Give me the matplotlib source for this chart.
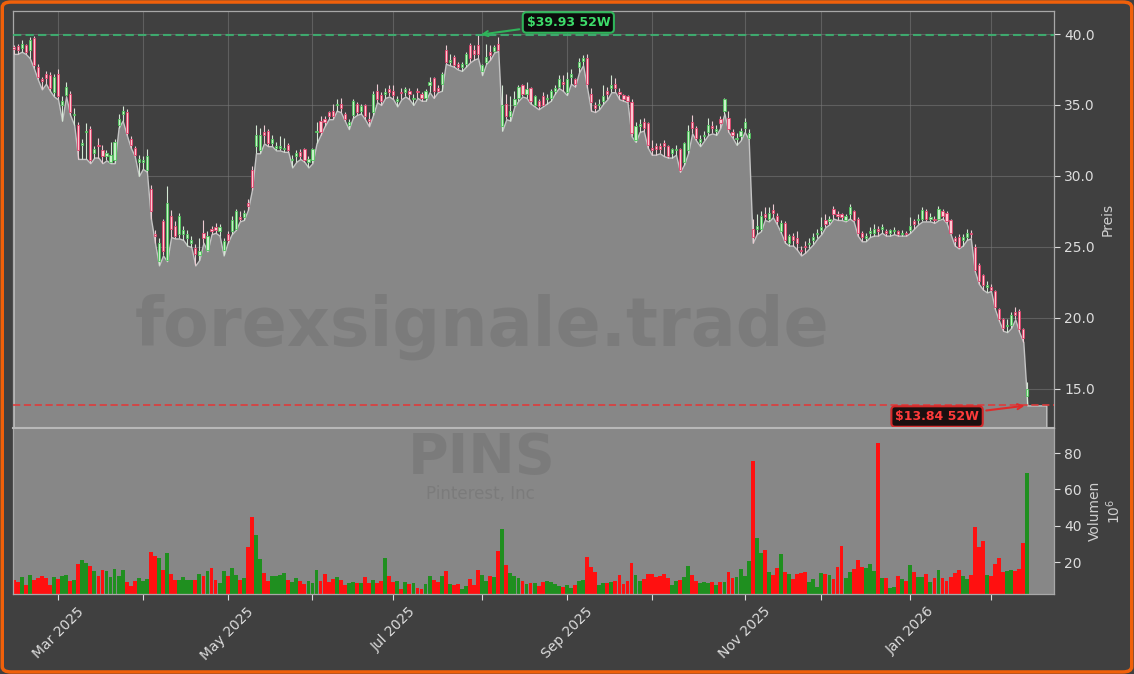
import numpy as np
import pandas as pd
import matplotlib
matplotlib.use("Agg")
import matplotlib.pyplot as plt
from matplotlib.patches import FancyBboxPatch

# ---------------- data ----------------
start_date = "2025-02-13"
end_date = "2026-02-13"
holidays = ["2025-02-17", "2025-04-18", "2025-05-26", "2025-06-19", "2025-07-04",
            "2025-09-01", "2025-11-27", "2025-12-25", "2026-01-01", "2026-01-19"]

open_ = [39.05, 39.15, 39.0, 39.2, 38.9, 39.75, 37.7, 36.8, 37.2, 37.1,
         35.9, 37.2, 35.0, 35.7, 35.8, 34.3, 33.6, 32.2, 33.1, 33.3,
         31.6, 32.2, 31.8, 31.4, 31.0, 31.1, 33.6, 34.4, 34.5, 32.6,
         32.0, 31.0, 31.0, 30.4, 29.1, 25.9, 24.0, 26.8, 24.1, 27.2,
         26.5, 25.9, 25.9, 25.6, 25.3, 24.9, 24.4, 26.0, 24.8, 26.3,
         26.4, 26.1, 24.8, 25.9, 26.1, 26.3, 27.1, 27.1, 28.1, 30.4,
         32.1, 31.8, 33.1, 33.2, 32.3, 32.0, 32.0, 31.9, 32.2, 31.1,
         31.4, 31.7, 31.9, 31.0, 31.1, 33.1, 33.9, 34.0, 34.5, 34.6,
         35.0, 35.1, 34.4, 33.6, 34.3, 35.1, 34.6, 35.0, 34.0, 34.5,
         36.0, 35.7, 35.8, 36.1, 36.0, 35.3, 35.95, 35.9, 36.0, 35.4,
         36.0, 35.8, 35.5, 36.4, 36.9, 36.2, 36.5, 38.9, 38.05, 38.4,
         37.9, 37.7, 37.9, 39.2, 38.9, 39.2, 37.4, 38.0, 38.7, 38.8,
         39.3, 33.5, 35.1, 34.2, 35.0, 35.5, 36.4, 35.8, 36.2, 35.0,
         35.3, 35.6, 35.4, 35.5, 36.0, 36.3, 36.6, 35.9, 37.0, 36.8,
         37.7, 38.1, 38.3, 35.8, 35.0, 35.0, 35.3, 36.0, 36.2, 36.5,
         35.9, 35.7, 35.6, 35.2, 32.5, 33.55, 33.8, 33.7, 31.95, 32.1,
         32.1, 32.3, 32.1, 31.6, 31.8, 31.9, 31.0, 31.8, 33.8, 33.4,
         32.4, 32.8, 33.1, 33.5, 33.2, 34.0, 34.6, 34.1, 33.1, 32.6,
         32.8, 33.4, 32.7, 26.3, 26.3, 26.3, 27.3, 27.0, 27.6, 27.2,
         26.1, 26.7, 25.3, 25.8, 25.6, 24.8, 25.1, 25.2, 25.5, 25.9,
         26.2, 26.9, 26.8, 27.7, 27.3, 27.3, 26.9, 27.3, 27.5, 27.0,
         26.0, 25.6, 26.0, 26.0, 26.3, 26.3, 26.1, 26.0, 26.1, 26.1,
         25.9, 26.0, 26.2, 26.8, 26.9, 27.0, 27.5, 27.0, 27.0, 27.0,
         27.5, 27.4, 26.9, 25.6, 25.7, 25.5, 25.7, 26.0, 25.0, 23.7,
         23.0, 22.2, 22.2, 21.9, 20.6, 19.9, 19.4, 19.5, 20.4, 20.5,
         19.2, 14.5]

high = [39.2, 39.3, 39.6, 39.3, 39.8, 39.86, 37.9, 37.0, 37.4, 37.3,
        37.2, 37.5, 35.6, 36.6, 36.0, 34.8, 33.8, 32.6, 33.7, 33.5,
        32.1, 32.7, 32.2, 31.8, 32.4, 32.6, 34.4, 34.9, 34.7, 32.8,
        32.1, 31.5, 31.4, 31.9, 29.4, 26.2, 25.6, 27.0, 29.3, 27.6,
        26.8, 27.4, 26.5, 26.2, 25.8, 25.2, 25.6, 26.9, 26.1, 26.5,
        26.7, 26.6, 25.6, 26.1, 27.2, 27.7, 27.5, 27.6, 28.4, 30.7,
        33.6, 33.4, 33.6, 33.3, 32.9, 32.4, 32.8, 32.7, 32.3, 31.5,
        31.8, 31.9, 32.0, 31.4, 32.0, 33.8, 34.2, 34.2, 34.6, 35.1,
        35.4, 35.5, 34.5, 34.0, 35.4, 35.2, 35.1, 35.1, 34.5, 36.0,
        36.5, 35.9, 36.2, 36.4, 36.4, 35.6, 36.2, 36.3, 36.2, 35.8,
        36.2, 35.9, 36.1, 37.0, 37.0, 36.4, 37.3, 39.2, 38.6, 38.5,
        38.0, 38.0, 38.7, 39.4, 39.2, 39.93, 37.9, 39.3, 39.2, 39.2,
        39.8, 36.4, 35.8, 35.6, 36.0, 36.4, 36.5, 36.6, 36.3, 35.7,
        35.4, 35.9, 35.8, 36.1, 36.4, 37.1, 37.1, 37.3, 37.5, 36.9,
        38.3, 38.5, 38.6, 36.2, 35.2, 35.4, 36.4, 36.3, 37.1, 36.9,
        36.2, 35.8, 35.7, 35.4, 33.8, 34.0, 34.1, 33.8, 32.5, 32.3,
        32.3, 32.5, 32.2, 32.0, 32.2, 32.0, 32.4, 33.6, 34.3, 33.5,
        32.9, 33.2, 34.1, 33.9, 33.6, 34.2, 35.5, 34.6, 33.3, 33.0,
        33.4, 34.1, 33.3, 27.0, 27.3, 27.5, 27.8, 27.8, 28.0, 27.4,
        26.9, 26.8, 25.9, 26.0, 26.1, 25.1, 25.4, 25.6, 26.0, 26.3,
        27.1, 27.3, 27.2, 27.9, 27.5, 27.4, 27.3, 28.0, 27.6, 27.1,
        26.1, 26.0, 26.4, 26.6, 26.5, 26.6, 26.3, 26.3, 26.4, 26.2,
        26.2, 26.1, 27.1, 27.0, 27.3, 27.8, 27.7, 27.4, 27.2, 27.9,
        27.7, 27.5, 27.0, 25.8, 25.9, 25.9, 26.3, 26.2, 25.2, 23.9,
        23.1, 22.6, 22.4, 22.0, 20.7, 20.0, 19.9, 20.4, 20.8, 20.6,
        19.3, 15.5]

low = [38.6, 38.6, 38.75, 38.6, 38.3, 37.6, 36.8, 36.1, 36.5, 36.0,
       35.6, 35.4, 33.9, 35.6, 34.3, 33.6, 31.2, 31.2, 31.2, 30.9,
       31.3, 31.3, 30.9, 31.1, 30.9, 30.9, 33.4, 33.9, 32.9, 32.0,
       31.4, 30.0, 30.5, 30.3, 27.0, 25.3, 23.7, 24.4, 24.0, 25.7,
       25.6, 25.6, 25.5, 25.1, 25.0, 23.7, 24.1, 25.3, 24.7, 25.9,
       26.0, 25.8, 24.4, 25.3, 25.9, 26.2, 26.8, 26.9, 27.6, 29.0,
       31.6, 31.6, 32.3, 32.1, 32.1, 31.8, 31.8, 31.7, 31.7, 30.6,
       31.0, 31.2, 31.0, 30.6, 30.9, 32.3, 32.9, 33.5, 34.0, 34.0,
       34.6, 34.5, 33.9, 33.3, 34.1, 34.3, 34.4, 34.0, 33.5, 34.3,
       35.2, 35.0, 35.5, 35.6, 35.4, 34.9, 35.4, 35.6, 35.4, 35.0,
       35.5, 35.3, 35.3, 35.9, 35.5, 35.9, 36.0, 37.9, 37.8, 37.7,
       37.5, 37.4, 37.7, 38.0, 38.2, 38.3, 37.1, 37.9, 38.2, 38.7,
       38.8, 33.2, 34.0, 33.9, 34.9, 35.3, 35.6, 35.5, 35.1, 34.9,
       34.7, 34.9, 35.1, 35.3, 35.8, 36.2, 36.0, 35.7, 36.5, 36.3,
       37.3, 37.8, 36.2, 34.6, 34.5, 34.7, 35.1, 35.4, 35.9, 35.9,
       35.4, 35.3, 35.2, 32.8, 32.4, 33.1, 33.2, 32.0, 31.5, 31.5,
       31.6, 31.4, 31.3, 31.3, 31.5, 30.3, 30.8, 31.6, 33.0, 32.5,
       32.1, 32.5, 32.9, 33.0, 32.9, 33.4, 34.4, 33.1, 32.7, 32.2,
       32.5, 33.1, 32.6, 25.3, 25.9, 26.1, 26.9, 26.8, 27.1, 26.6,
       26.0, 25.3, 25.1, 25.1, 24.8, 24.4, 24.6, 24.9, 25.2, 25.6,
       25.9, 26.4, 26.6, 27.0, 26.9, 26.9, 26.8, 27.0, 26.8, 25.8,
       25.4, 25.4, 25.7, 25.8, 25.8, 26.0, 25.8, 25.8, 25.9, 25.8,
       25.8, 25.8, 26.0, 26.3, 26.6, 26.8, 26.8, 26.8, 26.7, 26.9,
       27.0, 26.7, 25.9, 25.1, 24.9, 25.1, 25.5, 25.6, 23.3, 22.4,
       22.0, 21.8, 21.9, 20.6, 19.8, 19.1, 19.0, 19.3, 19.9, 19.0,
       18.3, 13.84]

close = [38.95, 38.87, 39.3, 38.7, 39.6, 37.8, 37.0, 36.7, 36.9, 36.2,
         37.0, 35.6, 35.3, 36.3, 34.5, 34.4, 31.8, 32.3, 33.2, 31.1,
         31.9, 32.1, 31.4, 31.6, 31.5, 32.4, 34.0, 34.6, 33.0, 32.2,
         31.5, 31.2, 31.1, 31.4, 27.5, 25.8, 25.3, 24.7, 28.1, 26.3,
         25.8, 27.2, 26.2, 25.9, 25.5, 24.5, 24.7, 25.6, 25.8, 26.1,
         26.2, 26.4, 25.4, 25.5, 26.9, 27.5, 27.0, 27.4, 27.9, 29.25,
         32.9, 32.9, 32.9, 32.3, 32.6, 32.1, 32.1, 32.0, 31.8, 31.2,
         31.6, 31.4, 31.1, 31.2, 31.9, 33.2, 33.1, 33.8, 34.2, 34.2,
         35.1, 34.8, 34.0, 33.8, 35.3, 34.5, 34.9, 34.2, 33.9, 35.8,
         35.4, 35.3, 35.9, 35.9, 35.7, 35.4, 35.85, 36.1, 35.8, 35.5,
         35.9, 35.5, 36.0, 36.6, 36.0, 36.0, 37.2, 38.0, 38.15, 37.8,
         37.7, 37.9, 38.6, 38.3, 38.6, 38.6, 37.8, 38.4, 38.5, 39.1,
         38.9, 35.0, 34.2, 34.6, 35.4, 36.3, 35.8, 36.1, 35.3, 35.6,
         34.9, 35.0, 35.5, 36.0, 36.2, 36.8, 36.5, 36.8, 37.2, 36.5,
         38.0, 38.3, 36.5, 35.2, 34.8, 35.1, 35.6, 35.8, 36.4, 36.2,
         35.8, 35.4, 35.3, 33.0, 33.5, 33.65, 33.4, 32.2, 31.85, 31.9,
         31.9, 32.1, 31.4, 31.9, 31.9, 30.4, 32.3, 33.2, 33.4, 32.7,
         32.6, 32.9, 33.6, 33.4, 33.3, 33.7, 35.4, 33.3, 32.9, 32.7,
         33.2, 33.8, 33.0, 25.7, 26.5, 27.2, 27.1, 27.4, 27.4, 26.8,
         26.7, 25.5, 25.8, 25.5, 25.3, 24.7, 25.0, 25.3, 25.7, 26.0,
         26.4, 26.6, 27.0, 27.3, 27.2, 27.1, 27.2, 27.8, 26.9, 26.0,
         25.7, 25.8, 26.1, 26.3, 26.1, 26.4, 26.0, 26.2, 26.2, 25.9,
         26.0, 25.9, 26.5, 26.6, 27.0, 27.6, 27.0, 27.1, 26.9, 27.7,
         27.2, 26.8, 26.0, 25.4, 25.0, 25.7, 26.0, 25.9, 23.4, 22.6,
         22.3, 22.3, 22.0, 20.8, 19.9, 19.3, 19.5, 20.2, 20.2, 19.2,
         18.6, 15.0]

volume_m = [10.0, 9.2, 12.0, 7.3, 13.0, 10.0, 11.4, 12.3, 11.2, 7.3,
            12.0, 10.6, 12.3, 12.8, 9.7, 10.0, 18.9, 21.1, 19.6, 17.8,
            15.0, 12.3, 15.6, 15.0, 12.0, 16.2, 12.3, 15.6, 9.0, 7.0,
            9.5, 11.2, 9.7, 10.6, 25.5, 23.3, 22.2, 15.6, 24.8, 13.4,
            10.1, 10.1, 11.7, 10.1, 10.1, 10.1, 13.4, 12.3, 15.0, 16.5,
            10.1, 8.3, 15.0, 12.3, 16.7, 12.8, 10.1, 11.2, 28.3, 44.8,
            34.9, 21.6, 14.0, 9.5, 12.3, 12.3, 13.0, 13.8, 10.1, 9.0,
            11.2, 9.4, 7.9, 9.4, 8.6, 15.6, 9.4, 13.4, 9.0, 10.8,
            11.7, 10.1, 7.3, 8.3, 9.0, 8.3, 8.3, 11.7, 8.3, 10.1,
            8.3, 9.4, 22.2, 12.3, 9.0, 9.5, 5.2, 9.0, 7.9, 8.5,
            5.7, 5.2, 7.9, 12.3, 10.1, 9.0, 12.3, 15.0, 7.9, 7.3,
            7.9, 5.2, 6.8, 10.6, 7.3, 15.6, 12.8, 9.5, 12.3, 11.7,
            26.0, 38.1, 18.3, 14.0, 12.3, 11.2, 9.5, 7.9, 8.5, 8.5,
            6.8, 9.0, 9.5, 9.0, 7.9, 6.9, 6.4, 7.3, 5.5, 7.3,
            9.5, 10.1, 22.9, 17.4, 14.7, 7.3, 8.6, 8.3, 9.2, 9.7,
            12.8, 7.9, 9.5, 19.3, 12.8, 9.5, 10.6, 13.4, 13.4, 11.6,
            12.3, 13.4, 11.0, 7.3, 9.5, 10.1, 11.9, 17.8, 12.8, 9.5,
            8.6, 9.0, 8.6, 9.0, 7.3, 9.0, 9.0, 14.3, 11.0, 11.9,
            16.2, 12.3, 20.6, 75.6, 33.2, 24.8, 26.6, 14.3, 12.8, 16.9,
            24.2, 14.3, 13.2, 10.6, 13.4, 13.8, 14.3, 9.0, 10.6, 6.2,
            13.8, 13.2, 12.8, 10.6, 17.4, 28.8, 11.2, 14.5, 16.4, 21.1,
            17.4, 16.5, 18.7, 15.0, 85.7, 11.2, 11.2, 5.9, 6.4, 12.3,
            10.4, 9.5, 18.3, 14.5, 11.6, 11.9, 13.4, 9.2, 11.4, 15.6,
            11.2, 9.5, 11.9, 14.1, 15.6, 12.3, 10.8, 12.8, 39.5, 28.5,
            31.7, 12.8, 12.3, 18.9, 22.4, 14.5, 15.0, 15.6, 15.0, 16.2,
            30.5, 69.1]

odd_month_labels = {1: "Jan", 3: "Mar", 5: "May", 7: "Jul", 9: "Sep", 11: "Nov"}
ticker = "PINS"
company = "Pinterest, Inc"
watermark = "forexsignale.trade"
price_ticks = [15, 20, 25, 30, 35, 40]
volume_ticks = [20, 40, 60, 80]

# ---------------- prepare ----------------
dates = pd.bdate_range(start_date, end_date, freq="C", holidays=holidays)
o = np.array(open_); h = np.array(high); l = np.array(low); c = np.array(close)
v = np.array(volume_m)
n = len(c)
x = np.arange(n)
up = c >= o

month_first = pd.Series(x, index=dates).groupby(dates.to_period("M")).first()
tick_pos = list(month_first.values[1:])
tick_lab = [f"{odd_month_labels[p.month]} {p.year}" if p.month in odd_month_labels else ""
            for p in month_first.index[1:]]

hi_i = int(np.argmax(h)); lo_i = int(np.argmin(l))
hi_v = h[hi_i]; lo_v = l[lo_i]
ylo, yhi = lo_v - 1.59, hi_v + 1.69

BG = "#404040"
FILL = "#878787"
TXT = "#dcdcdc"
SPINE = "#a8a8a8"

fig = plt.figure(figsize=(11.34, 6.74), dpi=100, facecolor=BG)
W, H = 1134, 674
ax = fig.add_axes([13 / W, 1 - 428 / H, (1054 - 13) / W, (428 - 11) / H])
axv = fig.add_axes([13 / W, 1 - 594 / H, (1054 - 13) / W, (594 - 428) / H], sharex=ax)

# ---- price panel ----
ax.set_facecolor(BG)
ax.set_axisbelow(True)
ax.grid(True, color="#7a7a7a", alpha=0.55, lw=0.8)
xf = np.append(x, x[-1] + 4.7)
lf = np.append(l, l[-1])
ax.fill_between(xf, lf, ylo, facecolor=FILL, edgecolor="#c4c4c4", lw=1.0, zorder=1)

g_face, g_edge = "#c8f2c8", "#4cc45a"
r_face, r_edge = "#ffc8d2", "#e0406a"
wick_cols = np.where(up, "#d4e8d4", "#eccbd2")
ax.vlines(x, l, h, colors=wick_cols, lw=0.8, zorder=3)
body_lo = np.minimum(o, c)
body_h = np.maximum(np.abs(c - o), 0.03)
ax.bar(x[up], body_h[up], bottom=body_lo[up], width=0.55, facecolor=g_face,
       edgecolor=g_edge, lw=0.6, zorder=4)
ax.bar(x[~up], body_h[~up], bottom=body_lo[~up], width=0.55, facecolor=r_face,
       edgecolor=r_edge, lw=0.6, zorder=4)

ax.axhline(hi_v, color="#3cb371", ls=(0, (4, 2)), lw=1.5, alpha=0.9, zorder=5)
ax.axhline(lo_v, color="#e03a3a", ls=(0, (4, 2)), lw=1.3, alpha=0.9, zorder=5)
ax.annotate(f"${hi_v:.2f} 52W", xy=(hi_i, hi_v), xytext=(65, 9), textcoords="offset points",
            ha="center", va="center", color="#3ddc6a", fontsize=9, fontweight="bold",
            bbox=dict(boxstyle="round,pad=0.3", fc="#0c0c0c", ec="#2fb55a", lw=1.5),
            arrowprops=dict(arrowstyle="->", color="#2fb55a", lw=1.5), zorder=6)
ax.annotate(f"${lo_v:.2f} 52W", xy=(lo_i, lo_v), xytext=(-65, -8), textcoords="offset points",
            ha="center", va="center", color="#ff3b3b", fontsize=9, fontweight="bold",
            bbox=dict(boxstyle="round,pad=0.3", fc="#1a1010", ec="#d42a2a", lw=1.5),
            arrowprops=dict(arrowstyle="->", color="#e02a2a", lw=1.5), zorder=6)

ax.set_ylim(ylo, yhi)
ax.set_xlim(-0.15, n + 5.6)
ax.yaxis.tick_right()
ax.yaxis.set_label_position("right")
ax.set_yticks(price_ticks)
ax.set_yticklabels([f"{t:.1f}" for t in price_ticks])
ax.set_ylabel("Preis", color="#cfcfcf", fontsize=10)
ax.tick_params(axis="y", colors=TXT, labelsize=10, length=4)
ax.tick_params(axis="x", length=0, labelbottom=False)
for s in ax.spines.values():
    s.set_color(SPINE)
    s.set_linewidth(0.9)

# ---- volume panel ----
axv.set_facecolor(FILL)
axv.set_axisbelow(True)
vcols = np.where(up, "#1f8f1f", "#ff1010")
axv.bar(x, v, width=0.95, color=vcols, zorder=2)
axv.set_ylim(2.4, 93.8)
axv.yaxis.tick_right()
axv.yaxis.set_label_position("right")
axv.set_yticks(volume_ticks)
axv.set_ylabel("Volumen\n$10^6$", color="#cfcfcf", fontsize=10)
axv.tick_params(axis="y", colors=TXT, labelsize=10, length=4)
axv.set_xticks(tick_pos)
axv.set_xticklabels(tick_lab, rotation=45, ha="center")
axv.tick_params(axis="x", colors=TXT, labelsize=10, length=4)
for s in axv.spines.values():
    s.set_color(SPINE)
    s.set_linewidth(0.9)
axv.spines["top"].set_color("#b8b8b8")
axv.spines["top"].set_linewidth(1.5)

# ---- watermarks ----
fig.text(482 / W, 1 - 327 / H, watermark, ha="center", va="center", fontsize=48,
         fontweight="bold", color="#2a2a2a", alpha=0.12, zorder=10)
fig.text(482 / W, 1 - 458 / H, ticker, ha="center", va="center", fontsize=40,
         fontweight="bold", color="#2a2a2a", alpha=0.12, zorder=10)
fig.text(480 / W, 1 - 494 / H, company, ha="center", va="center", fontsize=12,
         color="#2a2a2a", alpha=0.12, zorder=10)

# ---- orange frame ----
fig.patches.append(FancyBboxPatch((0.002, 0.003), 0.996, 0.994, transform=fig.transFigure,
                                  boxstyle="round,pad=0,rounding_size=0.008",
                                  fc="none", ec="#f0600a", lw=2.5, zorder=20))

fig.savefig("out.png", dpi=100, facecolor=BG)
